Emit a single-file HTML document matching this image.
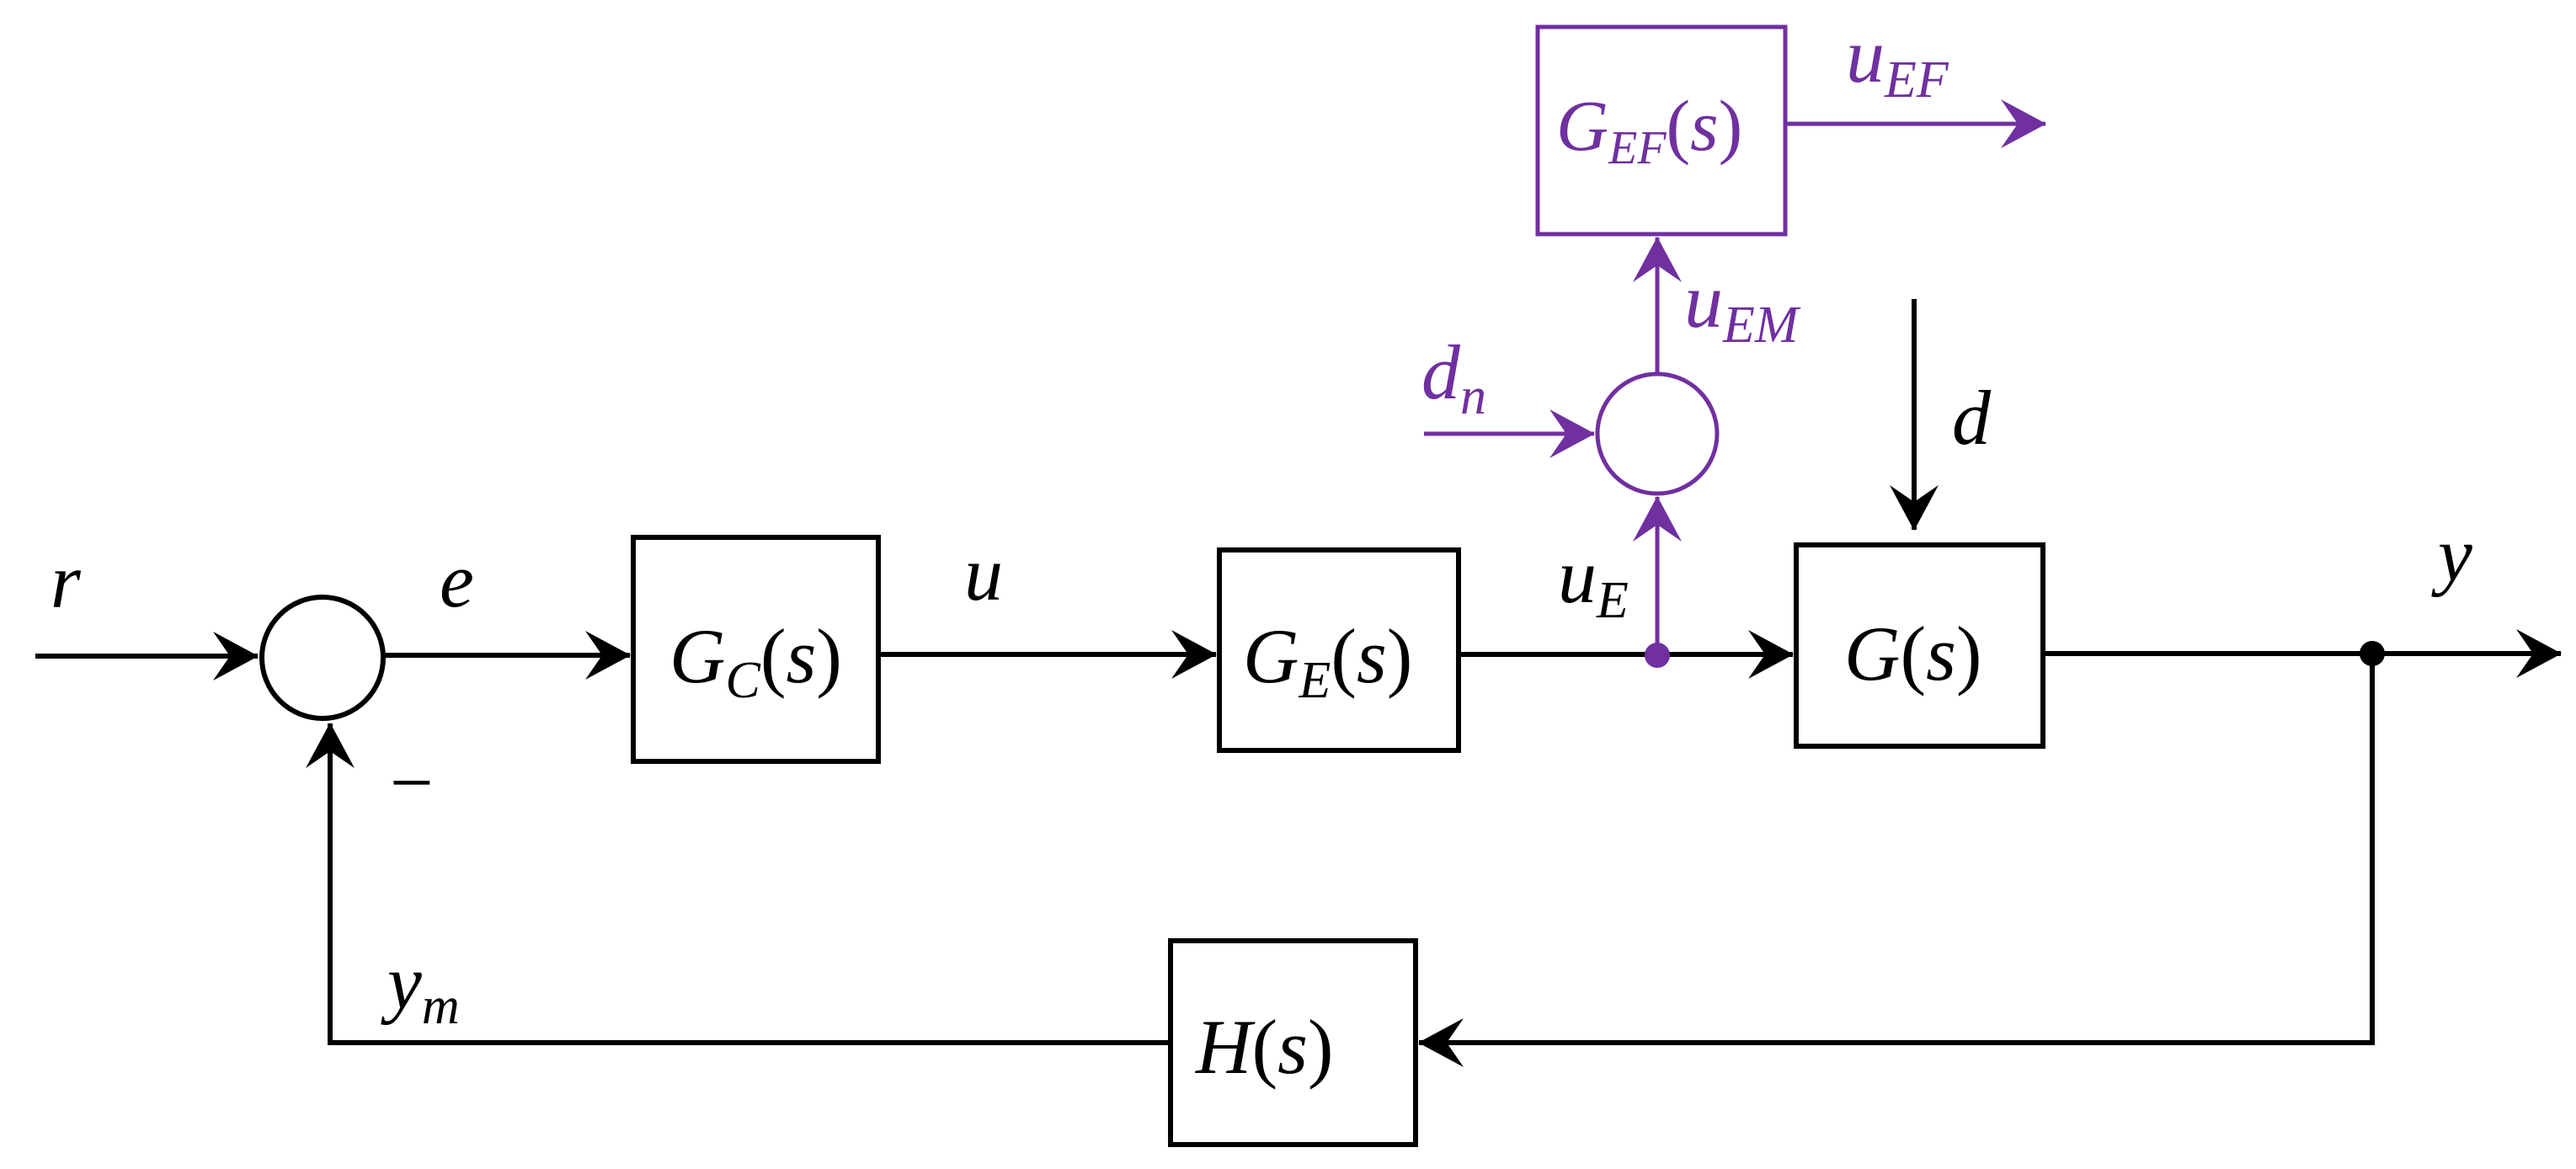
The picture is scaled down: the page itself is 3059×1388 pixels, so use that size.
<!DOCTYPE html>
<html><head><meta charset="utf-8"><style>
html,body{margin:0;padding:0;background:#fff;}
svg{display:block;}
text{font-family:"Liberation Serif","DejaVu Serif",serif;font-style:italic;}
</style></head><body>
<svg width="3059" height="1388" viewBox="0 0 3059 1388" xmlns="http://www.w3.org/2000/svg">
<defs>
<marker id="ab" markerWidth="10" markerHeight="10" refX="9" refY="5" orient="auto" markerUnits="userSpaceOnUse" viewBox="0 0 10 10" style="overflow:visible">
<path d="M-44,-24 L10,5 L-44,34 L-24,5 Z" fill="#000"/>
</marker>
<marker id="ap" markerWidth="10" markerHeight="10" refX="9" refY="5" orient="auto" markerUnits="userSpaceOnUse" viewBox="0 0 10 10" style="overflow:visible">
<path d="M-44,-24 L10,5 L-44,34 L-24,5 Z" fill="#7030A0"/>
</marker>
</defs>
<g stroke="#000" stroke-width="6" fill="none">
<line x1="42" y1="779" x2="306" y2="779" marker-end="url(#ab)"/>
<circle cx="383" cy="781" r="72"/>
<line x1="455" y1="778" x2="748" y2="778" marker-end="url(#ab)"/>
<rect x="752" y="638" width="291" height="266"/>
<line x1="1043" y1="777" x2="1444" y2="777" marker-end="url(#ab)"/>
<rect x="1448" y="653" width="284" height="238"/>
<line x1="1732" y1="777" x2="2129" y2="777" marker-end="url(#ab)"/>
<rect x="2133" y="647" width="293" height="239"/>
<line x1="2273" y1="355" x2="2273" y2="629" marker-end="url(#ab)"/>
<line x1="2426" y1="776" x2="3041" y2="776" marker-end="url(#ab)"/>
<polyline points="2817,776 2817,1238 1685,1238" marker-end="url(#ab)"/>
<rect x="1390" y="1117" width="291" height="242"/>
<polyline points="1390,1238 392,1238 392,859" marker-end="url(#ab)"/>
</g>
<circle cx="2817" cy="776" r="15" fill="#000"/>
<g stroke="#7030A0" stroke-width="5" fill="none">
<rect x="1826" y="32" width="294" height="246"/>
<line x1="2120" y1="147" x2="2429" y2="147" marker-end="url(#ap)"/>
<circle cx="1968" cy="515" r="71"/>
<line x1="1691" y1="515" x2="1893" y2="515" marker-end="url(#ap)"/>
<line x1="1968" y1="444" x2="1968" y2="282" marker-end="url(#ap)"/>
<line x1="1968" y1="777" x2="1968" y2="590" marker-end="url(#ap)"/>
</g>
<circle cx="1968" cy="778" r="15" fill="#7030A0"/>
<g font-size="92" fill="#000">
<text x="60" y="721">r</text>
<text x="522" y="720">e</text>
<text x="1145" y="712">u</text>
<text x="2895" y="689">y</text>
<text x="2318" y="527">d</text>
<text x="1850" y="715">u<tspan font-size="62" dy="18">E</tspan></text>
<text x="460" y="1197">y<tspan font-size="62" dy="18">m</tspan></text>
<text x="457" y="960" font-style="normal">−</text>
<text x="795" y="810">G<tspan font-size="62" dy="18">C</tspan><tspan dy="-18" font-style="normal">(</tspan>s<tspan font-style="normal">)</tspan></text>
<text x="1476" y="810">G<tspan font-size="62" dy="18">E</tspan><tspan dy="-18" font-style="normal">(</tspan>s<tspan font-style="normal">)</tspan></text>
<text x="2190" y="807">G<tspan font-style="normal">(</tspan>s<tspan font-style="normal">)</tspan></text>
<text x="1420" y="1274">H<tspan font-style="normal">(</tspan>s<tspan font-style="normal">)</tspan></text>
</g>
<g font-size="86" fill="#7030A0">
<text x="1848" y="178">G<tspan font-size="56" dy="16">EF</tspan><tspan dy="-16" font-style="normal">(</tspan>s<tspan font-style="normal">)</tspan></text>
<text x="2192" y="97" font-size="92">u<tspan font-size="62" dy="18">EF</tspan></text>
<text x="2000" y="388" font-size="92">u<tspan font-size="62" dy="18">EM</tspan></text>
<text x="1688" y="473" font-size="92">d<tspan font-size="62" dy="18">n</tspan></text>
</g>
</svg>
</body></html>
